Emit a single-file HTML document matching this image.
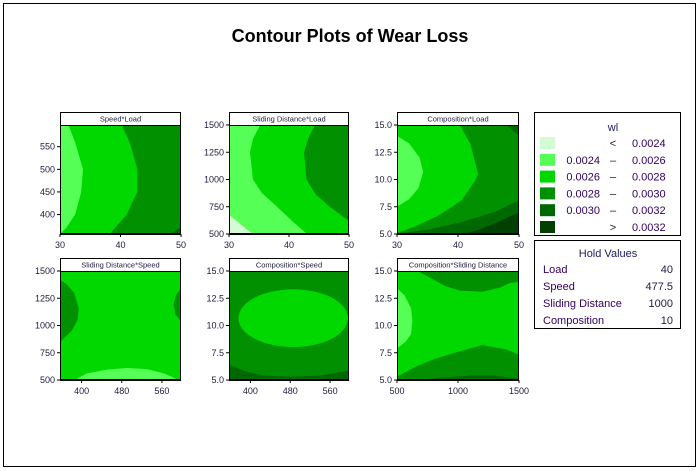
<!DOCTYPE html>
<html><head><meta charset="utf-8">
<style>
html,body{margin:0;padding:0;background:#fff;}
svg{display:block;font-family:"Liberation Sans","DejaVu Sans",sans-serif;}
</style></head>
<body>
<svg id="chart" width="700" height="471" viewBox="0 0 700 471">
<rect x="3.5" y="3.5" width="692" height="463" fill="#fff" stroke="#000"/>
<text x="350" y="42" text-anchor="middle" font-size="18" font-weight="bold">Contour Plots of Wear Loss</text>
<g id="panels"></g>
<g>
<rect x="534.5" y="112.5" width="146" height="123" fill="#fff" stroke="#000"/>
<text x="613" y="131" text-anchor="middle" font-size="11" fill="#202060">wl</text>
<g id="legendRows"></g>
</g>
<g>
<rect x="534.5" y="240.5" width="146" height="88" fill="#fff" stroke="#000"/>
<text x="608" y="257" text-anchor="middle" font-size="11" fill="#202060">Hold Values</text>
<g id="holdRows"></g>
</g>
</svg>
<script>
const levelColors = ["#d4fcd4","#55ff55","#00d800","#009000","#006800","#004000"];
const levelLow = ["", "0.0024","0.0026","0.0028","0.0030",""];
const levelSym = ["<","–","–","–","–",">"];
const levelHigh = ["0.0024","0.0026","0.0028","0.0030","0.0032","0.0032"];
const holdNames = ["Load","Speed","Sliding Distance","Composition"];
const holdVals = ["40","477.5","1000","10"];

const p1Regions = [
 [1, [[30,598],[31.4,598],[32.5,560],[33.8,500],[33.5,450],[32.5,400],[31,370],[30,357]]],
 [3, [[40.2,598],[41.5,560],[42.8,500],[42.8,450],[41,400],[38.2,357],[50,357],[50,598]]],
 [4, [[48.2,357],[50,372],[50,357]]]
];
const p2Regions = [
 [1, [[30,1500],[35.2,1500],[34,1375],[33.5,1250],[34,1000],[35.5,875],[38,750],[40.5,620],[43,500],[30,500]]],
 [0, [[30,675],[31.5,610],[33,540],[34,500],[30,500]]],
 [3, [[44.3,1500],[43.2,1375],[42.5,1250],[42.9,1000],[44.5,860],[46.8,750],[48.5,680],[50,620],[50,1500]]]
];
const p3Regions = [
 [3, [[40.3,15],[42,13.3],[43.3,10.5],[42.8,9.9],[40.6,8.1],[36.8,6.7],[33,5.7],[30.1,5.1],[30,5],[50,5],[50,15]]],
 [1, [[30,14],[32,13.3],[33.7,12],[34.3,10.7],[33.5,9.2],[32,8.2],[30,7.5]]],
 [4, [[47.9,15],[49,14.5],[50,14],[50,15]]],
 [4, [[50,8.1],[46.1,7.05],[40.6,6.1],[35.1,5.4],[30.4,5.05],[30.4,5],[50,5]]],
 [5, [[50,7.0],[47,6.2],[44,5.5],[41,5],[50,5]]]
];
const p4Regions = [
 [3, [[357,1418],[370,1380],[385,1300],[394.5,1158],[392,1050],[380,950],[357,848]]],
 [3, [[598,1341],[588,1280],[583,1190],[587,1100],[598,1037]]],
 [1, [[386,500],[410,560],[450,595],[490,610],[530,600],[565,560],[593,500]]]
];
const p5Regions = [
 [2, "ellipse", 486, 10.67, 110, 2.65],
 [4, [[357,6.4],[390,5.8],[426,5.4],[480,5.3],[540,5.4],[598,5.9],[598,5],[357,5]]]
];
const p6Regions = [
 [1, [[500,13.4],[560,12.8],[615,11.6],[626,10.4],[615,9.2],[570,8.5],[500,7.9]]],
 [3, [[672,15],[800,14.2],[900,13.6],[1014,13.2],[1200,13.1],[1350,13.5],[1423,13.9],[1500,14],[1500,15]]],
 [3, [[500,5.3],[650,6.2],[800,6.9],[1000,7.6],[1200,8.2],[1400,7.8],[1500,7.3],[1500,5],[500,5]]],
 [4, [[686,5],[850,5.2],[1100,5.4],[1300,5.4],[1500,5.1],[1500,5]]]
];
const panelTitles = ["Speed*Load","Sliding Distance*Load","Composition*Load","Sliding Distance*Speed","Composition*Speed","Composition*Sliding Distance"];
const panelXDomain = [[30,50],[30,50],[30,50],[357,598],[357,598],[500,1500]];
const panelYDomain = [[357,598],[500,1500],[5,15],[500,1500],[5,15],[5,15]];
const panelXTicks = [[30,40,50],[30,40,50],[30,40,50],[400,480,560],[400,480,560],[500,1000,1500]];
const panelYTicks = [[400,450,500,550],[500,750,1000,1250,1500],[5,7.5,10,12.5,15],[500,750,1000,1250,1500],[5,7.5,10,12.5,15],[5,7.5,10,12.5,15]];
const panelBase = [2,2,2,2,3,2];
const panelRegions = [p1Regions,p2Regions,p3Regions,p4Regions,p5Regions,p6Regions];
const panelBoxes = [[60,125,181,234],[229,125,349,234],[397,125,519,234],[60,271,181,380],[229,271,349,380],[397,271,519,380]];

const NS="http://www.w3.org/2000/svg";
function mk(tag,attrs,parent){const e=document.createElementNS(NS,tag);for(const k in attrs)e.setAttribute(k,attrs[k]);parent.appendChild(e);return e;}
const panels=document.getElementById('panels');
panelTitles.forEach((t,i)=>{
  const [L,T,R,B]=panelBoxes[i];
  const xd=panelXDomain[i], yd=panelYDomain[i];
  const sx=v=>L+(v-xd[0])/(xd[1]-xd[0])*(R-L);
  const sy=v=>B-(v-yd[0])/(yd[1]-yd[0])*(B-T);
  const g=mk('g',{},panels);
  
  
  const clipId='clip'+i;
  const cp=mk('clipPath',{id:clipId},g);
  mk('rect',{x:L,y:T,width:R-L,height:B-T},cp);
  const bg=mk('rect',{x:L,y:T,width:R-L,height:B-T,fill:levelColors[panelBase[i]]},g);
  
  
  const rg=mk('g',{'clip-path':'url(#'+clipId+')'},g);
  panelRegions[i].forEach(r=>{
    let el;
    if(r[1]==="ellipse"){
      el=mk('ellipse',{cx:sx(r[2]),cy:sy(r[3]),rx:Math.abs(sx(r[2]+r[4])-sx(r[2])),ry:Math.abs(sy(r[3]+r[5])-sy(r[3])),fill:levelColors[r[0]]},rg);
    } else {
      el=mk('polygon',{points:r[1].map(p=>sx(p[0]).toFixed(1)+','+sy(p[1]).toFixed(1)).join(' '),fill:levelColors[r[0]]},rg);
    }
    
    
  });
  mk('rect',{x:L+0.5,y:T-12.5,width:R-L-1,height:B-T+12,fill:'none',stroke:'#000'},g);
  mk('line',{x1:L,y1:T+0.5,x2:R,y2:T+0.5,stroke:'#000'},g);
  const hd=mk('text',{x:(L+R)/2,y:T-3.5,'text-anchor':'middle','font-size':'7.5',fill:'#202040'},g);
  hd.textContent=t;
  
  
  panelXTicks[i].forEach(v=>{
    const x=sx(v);
    mk('line',{x1:x,y1:B,x2:x,y2:B+3,stroke:'#000'},g);
    const tx=mk('text',{x:x,y:B+14,'text-anchor':'middle','font-size':'9',fill:'#202040'},g);
    tx.textContent=String(v);
    
    
  });
  panelYTicks[i].forEach(v=>{
    const y=sy(v);
    mk('line',{x1:L-3,y1:y,x2:L,y2:y,stroke:'#000'},g);
    const ty=mk('text',{x:L-5,y:y+3,'text-anchor':'end','font-size':'9',fill:'#202040'},g);
    ty.textContent=(yd[1]<=20)?v.toFixed(1):String(v);
    
    
  });
  mk('line',{x1:L,y1:B+0.5,x2:R,y2:B+0.5,stroke:'#000'},g);
});
const lr=document.getElementById('legendRows');
levelColors.forEach((c,i)=>{
  const y=137+i*16.8;
  const g=mk('g',{},lr);
  
  
  mk('rect',{x:540,y:y,width:15,height:12,fill:c},g);
  const a=mk('text',{x:600,y:y+10,'text-anchor':'end','font-size':'11',fill:'#300060'},g);a.textContent=levelLow[i];
  const b=mk('text',{x:613,y:y+10,'text-anchor':'middle','font-size':'11',fill:'#202020'},g);b.textContent=levelSym[i];
  const d=mk('text',{x:632,y:y+10,'font-size':'11',fill:'#300060'},g);d.textContent=levelHigh[i];
});
const hr=document.getElementById('holdRows');
holdNames.forEach((n,i)=>{
  const y=273+i*17;
  const a=mk('text',{x:543,y:y,'font-size':'11',fill:'#300060'},hr);a.textContent=n;
  
  
  const b=mk('text',{x:673,y:y,'text-anchor':'end','font-size':'11',fill:'#202040'},hr);b.textContent=holdVals[i];
  
  
});
</script>
</body></html>
